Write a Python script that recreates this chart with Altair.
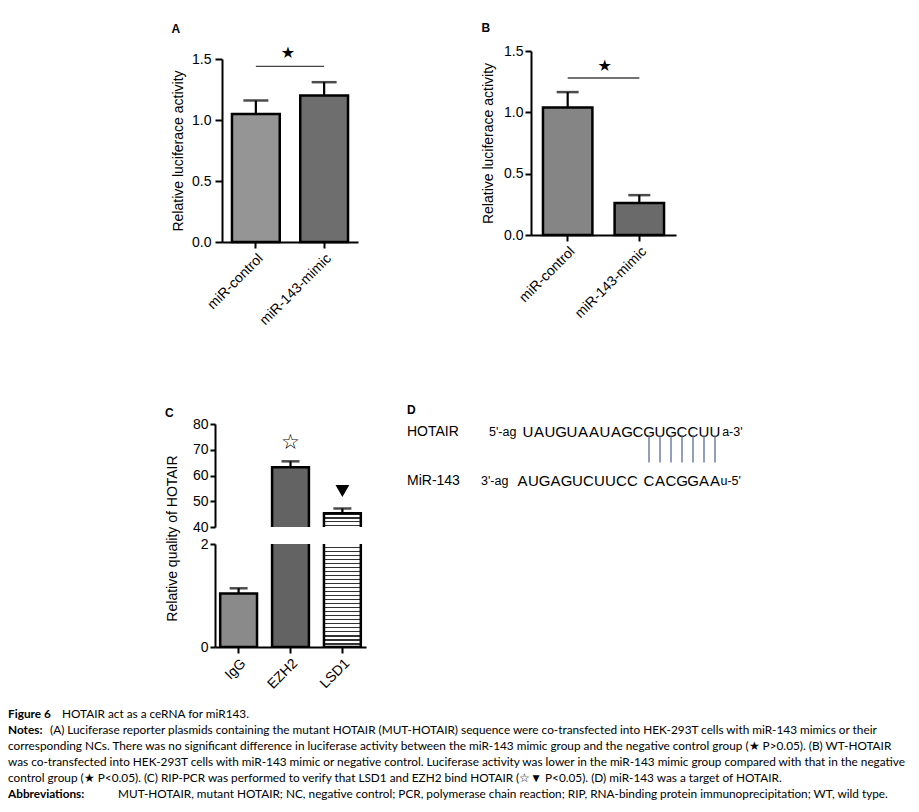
import altair as alt
import pandas as pd

FONT = "Liberation Sans"
SYM = "DejaVu Sans"
CAPFONT = "Lato"

# ---------------- data ----------------
a_groups = ["miR-control", "miR-143-mimic"]
a_means = [1.05, 1.20]
a_err = [0.11, 0.11]
a_sig, a_star = 1.44, 1.55

b_groups = ["miR-control", "miR-143-mimic"]
b_means = [1.04, 0.26]
b_err = [0.125, 0.065]
b_sig, b_star = 1.28, 1.38

c_groups = ["IgG", "EZH2", "LSD1"]
c_means = [1.04, 63.2, 45.3]
c_err = [0.10, 2.3, 1.9]
c_mark_groups = ["EZH2", "LSD1"]
c_mark_values = [72.6, 54.0]

yticks_ab = [0, 0.5, 1.0, 1.5]
yticks_c_top = [40, 50, 60, 70, 80]
yticks_c_bot = [0, 1, 2]

hotair_seq = "UAUGUAAUAGCGUGCCUU"
mir_seq_left = "AUGAGUCUUCC"
mir_seq_pair = "CACGGAA"

caption_bold = ["Figure 6", "Notes:", "", "", "", "Abbreviations:"]
caption_rest = [
    "HOTAIR act as a ceRNA for miR143.",
    "(A) Luciferase reporter plasmids containing the mutant HOTAIR (MUT-HOTAIR) sequence were co-transfected into HEK-293T cells with miR-143 mimics or their",
    "corresponding NCs. There was no significant difference in luciferase activity between the miR-143 mimic group and the negative control group (\u2605 P>0.05). (B) WT-HOTAIR",
    "was co-transfected into HEK-293T cells with miR-143 mimic or negative control. Luciferase activity was lower in the miR-143 mimic group compared with that in the negative",
    "control group (\u2605 P<0.05). (C) RIP-PCR was performed to verify that LSD1 and EZH2 bind HOTAIR (\u2606\u25bc P<0.05). (D) miR-143 was a target of HOTAIR.",
    "MUT-HOTAIR, mutant HOTAIR; NC, negative control; PCR, polymerase chain reaction; RIP, RNA-binding protein immunoprecipitation; WT, wild type.",
]

# ---------------- styles ----------------
a_fills = ["#959595", "#6e6e6e"]
b_fills = ["#858585", "#6a6a6a"]
c_fills = ["#8a8a8a", "#636363", "#ffffff"]


def stripes(n, dark="#333333", frac=0.38):
    stops = []
    for k in range(n):
        a = k / n
        b = (k + frac) / n
        c = (k + 1) / n
        stops += [
            alt.GradientStop(offset=a, color=dark),
            alt.GradientStop(offset=b, color=dark),
            alt.GradientStop(offset=b, color="#ffffff"),
            alt.GradientStop(offset=c, color="#ffffff"),
        ]
    return alt.Gradient(gradient="linear", stops=stops, x1=0, x2=0, y1=0, y2=1)


def xaxis(show=True):
    if not show:
        return None
    return alt.Axis(title=None, labelAngle=-45, labelFont=FONT, labelFontSize=14,
                    labelColor="black", domainColor="black", domainWidth=2,
                    tickColor="black", tickWidth=2, tickSize=6, labelPadding=3,
                    grid=False)


def yaxis(values, fmt, title, tick_size, label_pad, title_pad, **kw):
    return alt.Axis(values=values, format=fmt, title=title, grid=False,
                    labelFont=FONT, labelFontSize=14, labelColor="black",
                    labelPadding=label_pad, domainColor="black", domainWidth=2,
                    tickColor="black", tickWidth=2, tickSize=tick_size,
                    titleFont=FONT, titleFontSize=14, titleFontWeight="normal",
                    titleColor="black", titlePadding=title_pad, **kw)


def luc_panel(letter, groups, means, errs, fills, sig, star, width, height, top_gap,
              po, pi, tick_size, label_pad, title_pad, cap, star_dx, title_offset):
    df = pd.DataFrame({"g": groups, "m": means,
                       "top": [m + e for m, e in zip(means, errs)], "fill": fills})
    xs = alt.Scale(domain=groups, paddingInner=pi, paddingOuter=po)
    ys = alt.Scale(domain=[0, 1.5], nice=False, zero=True, range=[height, top_gap])
    yax = yaxis(yticks_ab, ".1f", "Relative luciferace activity", tick_size, label_pad, title_pad)
    X = alt.X("g:N", scale=xs, axis=xaxis(), sort=groups)
    def Y(f):
        return alt.Y(f, type="quantitative", scale=ys, axis=yax)
    base = alt.Chart(df)
    bars = base.mark_bar(stroke="black", strokeWidth=2.5).encode(
        x=X, y=Y("m"), fill=alt.Fill("fill:N", scale=None))
    err = base.mark_rule(color="black", strokeWidth=2.2).encode(x=X, y=Y("m"), y2="top:Q")
    caps = base.mark_tick(color="black", thickness=2.5, size=cap).encode(x=X, y=Y("top"))
    sdf = pd.DataFrame({"g": [groups[0]], "g2": [groups[1]], "m": [sig], "s": [star]})
    sbase = alt.Chart(sdf)
    line = sbase.mark_rule(color="#444444", strokeWidth=1.3).encode(x=X, x2="g2:N", y=Y("m"))
    st = sbase.mark_text(text="\u2605", font=SYM, fontSize=16, dx=star_dx, baseline="middle").encode(
        x=X, y=Y("s"))
    return alt.layer(bars, err, caps, line, st).properties(
        width=width, height=height,
        title=alt.TitleParams(letter, anchor="start", frame="bounds", font=FONT,
                              fontSize=12, fontWeight="bold", color="black",
                              offset=title_offset))


panel_a = luc_panel("A", a_groups, a_means, a_err, a_fills, a_sig, a_star,
                    136, 191, 8, 0.146, 0.30, 7, 4, 6, 25, 32, 9)
panel_b = luc_panel("B", b_groups, b_means, b_err, b_fills, b_sig, b_star,
                    145, 184, 0, 0.167, 0.31, 6, 2, 8, 22, 37, 9)

# ---------------- panel C (broken axis) ----------------
c_df = pd.DataFrame({"g": c_groups, "m": c_means,
                     "top": [m + e for m, e in zip(c_means, c_err)], "fill": c_fills})
c_xs = alt.Scale(domain=c_groups, paddingInner=0.29, paddingOuter=0.1)
C_W = 151


def c_segment(domain, ticks, show_x, is_top):
    ys = alt.Scale(domain=domain, nice=False, zero=False)
    if is_top:
        yax = yaxis(ticks, "d", "Relative quality of HOTAIR", 5, 2, 6,
                    titleX=-36, titleY=114)
    else:
        yax = yaxis(ticks, "d", None, 5, 2, 6)
    X = alt.X("g:N", scale=c_xs, axis=xaxis(show_x), sort=c_groups)
    def Y(f):
        return alt.Y(f, type="quantitative", scale=ys, axis=yax)
    low = domain[0] - 2 if is_top else 0
    high = domain[1] + 0.05 * (domain[1] - domain[0])
    base = alt.Chart(c_df).transform_calculate(yb="min(datum.m, %f)" % high)
    bars = base.transform_filter("datum.g != 'LSD1'").mark_bar(
        stroke="black", strokeWidth=2.5, clip=True).encode(
        x=X, y=Y("yb"), y2=alt.Y2(datum=low), fill=alt.Fill("fill:N", scale=None))
    nstripe = 5 if is_top else 27
    lsd = base.transform_filter("datum.g == 'LSD1'").mark_bar(
        stroke="black", strokeWidth=2.5, clip=True, fill=stripes(nstripe)).encode(
        x=X, y=Y("yb"), y2=alt.Y2(datum=low))
    err = base.mark_rule(color="black", strokeWidth=2.2, clip=True).encode(
        x=X, y=Y("m"), y2="top:Q")
    caps = base.mark_tick(color="black", thickness=2.5, size=18, clip=True).encode(
        x=X, y=Y("top"))
    layers = [bars, lsd, err, caps]
    if is_top:
        mdf = pd.DataFrame({"g": c_mark_groups, "m": c_mark_values})
        mb = alt.Chart(mdf)
        star = mb.transform_filter("datum.g == 'EZH2'").mark_text(
            text="\u2606", font=SYM, fontSize=21, baseline="middle", fontWeight="bold").encode(
            x=X, y=Y("m"))
        tri = mb.transform_filter("datum.g == 'LSD1'").mark_point(
            shape="triangle-down", filled=True, color="black", size=190, opacity=1).encode(
            x=X, y=Y("m"))
        layers += [star, tri]
    ch = alt.layer(*layers).properties(width=C_W, height=103)
    if is_top:
        ch = ch.properties(title=alt.TitleParams("C", anchor="start", frame="bounds", font=FONT,
                                                 fontSize=12, fontWeight="bold", color="black",
                                                 offset=-3))
    return ch


panel_c = alt.vconcat(c_segment([40, 80], yticks_c_top, False, True),
                      c_segment([0, 2], yticks_c_bot, True, False),
                      spacing=17, bounds="flush").resolve_scale(x="independent", y="independent")

# ---------------- panel D (sequence pairing) ----------------
d_xs = alt.Scale(domain=[-10, 22], nice=False)
d_ys = alt.Scale(domain=[-0.17, 1.29], nice=False, reverse=True)
DX = lambda f: alt.X(f, type="quantitative", scale=d_xs, axis=None)
DY = lambda f: alt.Y(f, type="quantitative", scale=d_ys, axis=None)

names_df = pd.DataFrame({"t": ["HOTAIR", "MiR-143"], "r": [0, 1], "x": [-10, -10]})
ends_df = pd.DataFrame({"t": ["5'-ag", "a-3'", "3'-ag", "u-5'"], "r": [0, 0, 1, 1],
                        "x": [-2.55, 18.65, -3.27, 18.5]})
bases_rows = []
for i, ch in enumerate(hotair_seq):
    bases_rows.append({"t": ch, "r": 0, "x": i + 1})
for k, ch in enumerate(mir_seq_left):
    bases_rows.append({"t": ch, "r": 1, "x": k + 0.5})
n_pair = len(mir_seq_pair)
for k, ch in enumerate(mir_seq_pair):
    bases_rows.append({"t": ch, "r": 1, "x": len(hotair_seq) - n_pair + 1 + k})
bases_df = pd.DataFrame(bases_rows)
pair_df = pd.DataFrame({"x": [len(hotair_seq) - n_pair + 1 + k for k in range(n_pair)],
                        "y1": [0.06] * n_pair, "y2": [0.62] * n_pair})

d_names = alt.Chart(names_df).mark_text(font=FONT, fontSize=14, align="left", color="black").encode(
    x=DX("x"), y=DY("r"), text="t:N")
d_ends = alt.Chart(ends_df).mark_text(font=FONT, fontSize=12.5, align="left", color="black").encode(
    x=DX("x"), y=DY("r"), text="t:N")
d_bases = alt.Chart(bases_df).mark_text(font=FONT, fontSize=15, align="center", color="black").encode(
    x=DX("x"), y=DY("r"), text="t:N")
d_pairs = alt.Chart(pair_df).mark_rule(color="#5a6a98", strokeWidth=1.3).encode(
    x=DX("x"), y=DY("y1"), y2="y2:Q")
panel_d = alt.layer(d_names, d_ends, d_bases, d_pairs).properties(
    width=352, height=71,
    title=alt.TitleParams("D", anchor="start", frame="group", font=FONT, fontSize=12,
                          fontWeight="bold", color="black", offset=7))

# ---------------- caption ----------------
cap_df = pd.DataFrame({"line": list(range(len(caption_rest))), "bold": caption_bold,
                       "rest": caption_rest})
cap_offsets = {0: 54, 1: 42, 5: 110}
CAPSIZE = 11.8
CY = alt.Y("line:Q", scale=alt.Scale(domain=[0, 5], reverse=True, nice=False), axis=None)
cap_layers = [alt.Chart(cap_df).mark_text(font=CAPFONT, fontSize=CAPSIZE, fontWeight="bold",
                                          align="left", color="black").encode(
    x=alt.value(0), y=CY, text="bold:N")]
for ln, off in cap_offsets.items():
    cap_layers.append(alt.Chart(cap_df).transform_filter("datum.line == %d" % ln).mark_text(
        font=CAPFONT, fontSize=CAPSIZE, align="left", color="black").encode(
        x=alt.value(off), y=CY, text="rest:N"))
cap_layers.append(alt.Chart(cap_df).transform_filter("datum.line >= 2 && datum.line <= 4").mark_text(
    font=CAPFONT, fontSize=CAPSIZE, align="left", color="black").encode(
    x=alt.value(0), y=CY, text="rest:N"))
caption = alt.layer(*cap_layers).properties(width=895, height=80)


def spacer(w):
    return alt.Chart(pd.DataFrame({"v": [0]})).mark_point(size=0, opacity=0).encode(
        x=alt.X("v:Q", axis=None), y=alt.Y("v:Q", axis=None)).properties(width=w, height=1)


row1 = alt.hconcat(spacer(40), panel_a, panel_b, spacing=123).resolve_scale(
    x="independent", y="independent")
row2 = alt.hconcat(spacer(115), panel_c, panel_d, spacing=41).resolve_scale(
    x="independent", y="independent")
upper = alt.vconcat(row1, row2, spacing=76).resolve_scale(x="independent", y="independent")
chart = alt.vconcat(upper, caption, spacing=17).resolve_scale(
    x="independent", y="independent").properties(
    padding={"left": 0, "top": 14, "right": 0, "bottom": 0}).configure_view(strokeWidth=0)

chart.save("out.html", embed_options={"renderer": "svg", "actions": False})
